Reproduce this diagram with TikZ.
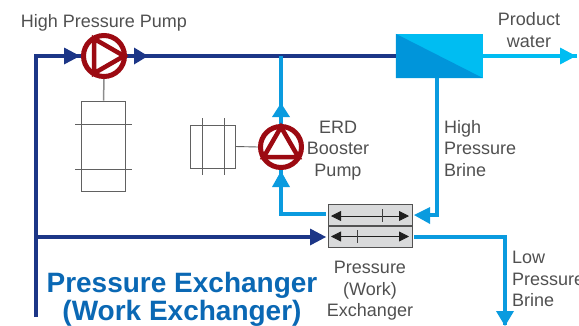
\documentclass[tikz,border=0pt]{standalone}
\usepackage{fontspec}
\setmainfont{Liberation Sans}
\usetikzlibrary{arrows.meta,calc}
\definecolor{navy}{HTML}{1C3687}
\definecolor{sky}{HTML}{0A9BDF}
\definecolor{cyanw}{HTML}{00BDF2}
\definecolor{memdark}{HTML}{0095DA}
\definecolor{pumpred}{HTML}{9C0A12}
\definecolor{titleblue}{HTML}{0A68B4}
\definecolor{labelgray}{HTML}{505050}
\definecolor{exfill}{HTML}{D9DADB}
\tikzset{
  x=1pt,y=-1pt,
  navypipe/.style={draw=navy,line width=4pt},
  skypipe/.style={draw=sky,line width=4pt},
  cyanpipe/.style={draw=cyanw,line width=4pt},
  pumpring/.style={circle,draw=pumpred,line width=5pt,minimum size=41pt,inner sep=0pt},
  motorline/.style={draw=black!62,line width=0.9pt},
  lbl/.style={font=\fontsize{18}{21.5}\selectfont,text=labelgray,align=center,inner sep=0pt},
  lblleft/.style={lbl,align=left,anchor=north west},
  exbox/.style={draw=black!68,fill=exfill,line width=1pt,minimum width=84pt,minimum height=21pt,inner sep=0pt},
  exarrow/.style={draw=black!88,line width=0.8pt,{Triangle[length=10pt,width=10pt]}-{Triangle[length=10pt,width=10pt]}},
  titletext/.style={font=\bfseries\fontsize{28}{28.5}\selectfont,text=titleblue,align=center,inner sep=0pt}
}
\begin{document}
\begin{tikzpicture}
\clip (0,0) rectangle (579,325);
% anchors
\coordinate (corner) at (36,56);
\coordinate (bottom) at (36,317);
\coordinate (tee) at (36,237);
\coordinate (boost) at (281,56);
\coordinate (lowcorner) at (505,237);
\coordinate (lowend) at (505,325);
\coordinate (brinecorner) at (437,215);
\coordinate (boostcorner) at (281,214);
\coordinate (prodend) at (577,56);
% membrane
\node[minimum width=87pt,minimum height=44pt,inner sep=0pt,fill=cyanw] (mem) at (439.5,56) {};
\fill[memdark] (mem.north west) -- (mem.south east) -- (mem.south west) -- cycle;
% pipes
\node[pumpring] (hp) at (104,56) {};
\node[pumpring] (erd) at (281,147) {};
\node[exbox,anchor=south] (exa) at (370,226) {};
\node[exbox,anchor=north] (exb) at (370,226) {};
\draw[navypipe] (bottom) -- (corner) -- (hp.west);
\draw[navypipe] (hp.east) -- (mem.west);
\draw[navypipe,shorten >=6pt] (tee) -- (exb.west);
\draw[skypipe] (erd.north) -- (boost);
\draw[skypipe,shorten <=2pt] (exa.west |- boostcorner) -- (boostcorner) -- (erd.south);
\draw[skypipe,shorten >=1pt] (mem.south -| brinecorner) -- (brinecorner) -- ($(exa.east)+(4,0)$);
\draw[skypipe] ($(exb.east)+(1.5,0)$) -- (lowcorner) -- (lowend);
\draw[cyanpipe] (mem.east) -- (prodend);
% arrowheads
\fill[navy] (64,47.5) -- (80,56) -- (64,64.5) -- cycle;
\fill[navy] (134,47.5) -- (148,56) -- (134,64.5) -- cycle;
\fill[navy] (310,228.5) -- (326,237) -- (310,245.5) -- cycle;
\fill[sky] (272,117) -- (281,103) -- (290,117) -- cycle;
\fill[sky] (272,187) -- (281,171) -- (290,187) -- cycle;
\fill[sky] (430,207) -- (414,215) -- (430,224) -- cycle;
\fill[sky] (496,311) -- (505,326) -- (514,311) -- cycle;
\fill[cyanw] (560,47.5) -- (576,56) -- (560,64.5) -- cycle;
% pump triangles
\draw[pumpred,line width=4.5pt,line join=miter] (hp.center) ++(20,0) -- ++(-30,-17.3) -- ++(0,34.6) -- cycle;
\draw[pumpred,line width=4.5pt,line join=miter] (erd.center) ++(0,-20) -- ++(-17.3,30) -- ++(34.6,0) -- cycle;
% motors
\node[draw=black!62,line width=0.9pt,minimum width=44pt,minimum height=90pt,inner sep=0pt] (m1) at (103.5,146) {};
\node[draw=black!62,line width=0.9pt,minimum width=45pt,minimum height=43pt,inner sep=0pt] (m2) at (212.5,146.5) {};
\draw[draw=black!45,line width=1.5pt] (hp.south) -- (m1.north);
\draw[motorline] (m2.east) -- (erd.west);
\draw[motorline] (75,124) -- (132,124);
\draw[motorline] (75,169) -- (132,169);
\draw[motorline] (202,118) -- (202,175);
\draw[motorline] (224,118) -- (224,175);
% exchanger arrows
\draw[exarrow] (331,216) -- (409,216);
\draw[exarrow] (331,236.5) -- (409,236.5);
\draw[draw=black!75,line width=0.8pt] (382,209) -- (382,222);
\draw[draw=black!75,line width=0.8pt] (357,230) -- (357,243);
% labels
\node[lbl] (l1) at (104,22.5) {High Pressure Pump};
\node[lbl] (l2) at (529,30) {Product\\water};
\node[lbl] (l3) at (338,150.5) {ERD\\Booster\\Pump};
\node[lblleft] (l4) at (444,120) {High\\Pressure\\Brine};
\node[lbl] (l5) at (370,291) {Pressure\\(Work)\\Exchanger};
\node[lblleft] (l6) at (512,251) {Low\\Pressure\\Brine};
\node[titletext] (t) at (182,299.5) {Pressure Exchanger\\(Work Exchanger)};
\end{tikzpicture}
\end{document}
